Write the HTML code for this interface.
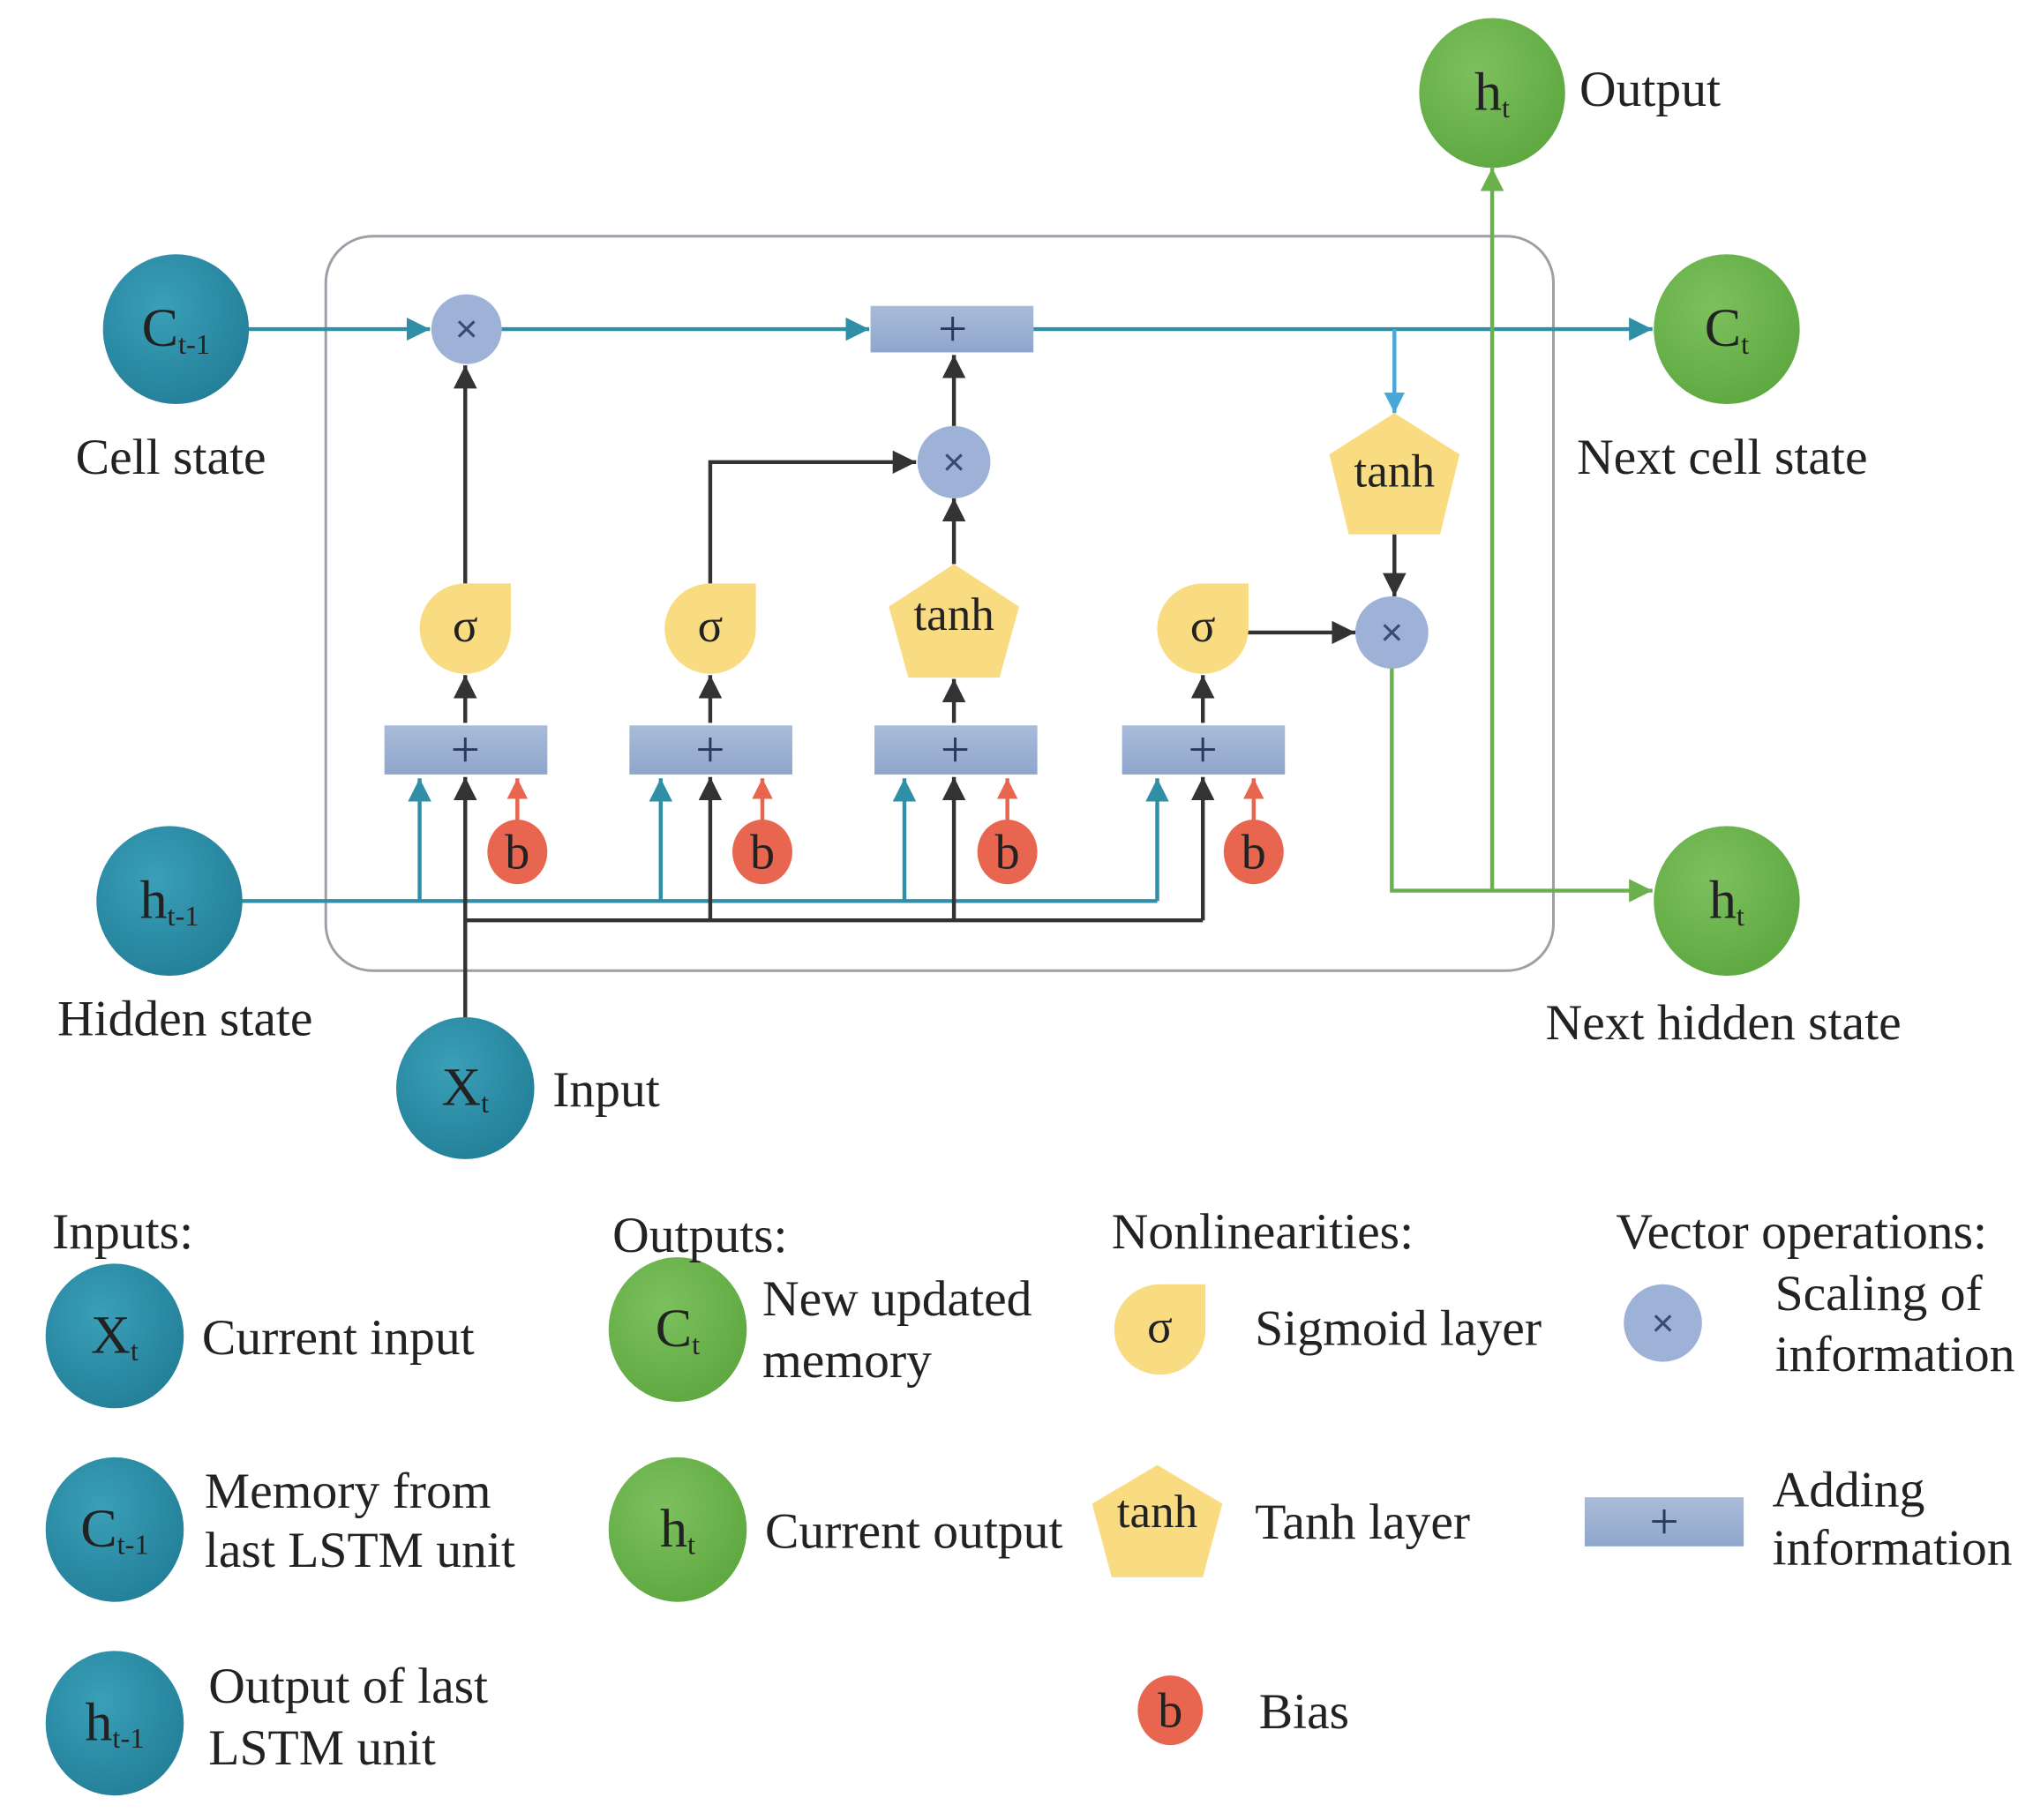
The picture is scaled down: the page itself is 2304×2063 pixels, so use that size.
<!DOCTYPE html>
<html><head><meta charset="utf-8"><style>
html,body{margin:0;padding:0;background:#fff;}
svg{display:block;}
text{font-family:"Liberation Serif",serif;fill:#222;}
</style></head><body>
<svg width="2304" height="2063" viewBox="0 0 1560 1410" preserveAspectRatio="none" xmlns="http://www.w3.org/2000/svg">
<defs>
<radialGradient id="gt" cx="0.4" cy="0.35" r="0.7"><stop offset="0" stop-color="#3a9fb8"/><stop offset="1" stop-color="#237f98"/></radialGradient>
<radialGradient id="gg" cx="0.4" cy="0.35" r="0.7"><stop offset="0" stop-color="#7cc05e"/><stop offset="1" stop-color="#5ea840"/></radialGradient>
<linearGradient id="gb" x1="0" y1="0" x2="0" y2="1"><stop offset="0" stop-color="#a9bbd8"/><stop offset="1" stop-color="#8fa6cc"/></linearGradient>
<marker id="aT" viewBox="0 0 10 10" refX="10" refY="5" markerWidth="18" markerHeight="18" markerUnits="userSpaceOnUse" orient="auto"><path d="M0,0L10,5L0,10z" fill="#2f8fa6"/></marker>
<marker id="aK" viewBox="0 0 10 10" refX="10" refY="5" markerWidth="18" markerHeight="18" markerUnits="userSpaceOnUse" orient="auto"><path d="M0,0L10,5L0,10z" fill="#333"/></marker>
<marker id="aR" viewBox="0 0 10 10" refX="10" refY="5" markerWidth="16" markerHeight="16" markerUnits="userSpaceOnUse" orient="auto"><path d="M0,0L10,5L0,10z" fill="#e8664f"/></marker>
<marker id="aG" viewBox="0 0 10 10" refX="10" refY="5" markerWidth="18" markerHeight="18" markerUnits="userSpaceOnUse" orient="auto"><path d="M0,0L10,5L0,10z" fill="#6ab04c"/></marker>
<marker id="aB" viewBox="0 0 10 10" refX="10" refY="5" markerWidth="16" markerHeight="16" markerUnits="userSpaceOnUse" orient="auto"><path d="M0,0L10,5L0,10z" fill="#4aa8d8"/></marker>
</defs>

<rect x="250" y="183" width="942" height="569" rx="36" fill="none" stroke="#9aa0a6" stroke-width="2"/>

<g stroke="#2f8fa6" stroke-width="3" fill="none">
<line x1="190" y1="255" x2="330" y2="255" marker-end="url(#aT)"/>
<line x1="385" y1="255" x2="667" y2="255" marker-end="url(#aT)"/>
<line x1="793" y1="255" x2="1268" y2="255" marker-end="url(#aT)"/>
<polyline points="185,698 888,698"/>
<line x1="322" y1="698" x2="322" y2="603" marker-end="url(#aT)"/>
<line x1="507" y1="698" x2="507" y2="603" marker-end="url(#aT)"/>
<line x1="694" y1="698" x2="694" y2="603" marker-end="url(#aT)"/>
<line x1="888" y1="698" x2="888" y2="603" marker-end="url(#aT)"/>
</g>
<line x1="1070" y1="255" x2="1070" y2="320" stroke="#4aa8d8" stroke-width="3" marker-end="url(#aB)"/>

<g stroke="#333" stroke-width="3" fill="none">
<line x1="357" y1="790" x2="357" y2="602" marker-end="url(#aK)"/>
<polyline points="357,713 923,713"/>
<line x1="545" y1="713" x2="545" y2="602" marker-end="url(#aK)"/>
<line x1="732" y1="713" x2="732" y2="602" marker-end="url(#aK)"/>
<line x1="923" y1="713" x2="923" y2="602" marker-end="url(#aK)"/>
<line x1="357" y1="560" x2="357" y2="523" marker-end="url(#aK)"/>
<line x1="545" y1="560" x2="545" y2="523" marker-end="url(#aK)"/>
<line x1="732" y1="560" x2="732" y2="526" marker-end="url(#aK)"/>
<line x1="923" y1="560" x2="923" y2="523" marker-end="url(#aK)"/>
<line x1="357" y1="452" x2="357" y2="283" marker-end="url(#aK)"/>
<polyline points="545,452 545,358 703,358" marker-end="url(#aK)"/>
<line x1="732" y1="437" x2="732" y2="386" marker-end="url(#aK)"/>
<line x1="732" y1="330" x2="732" y2="275" marker-end="url(#aK)"/>
<line x1="1070" y1="414" x2="1070" y2="462" marker-end="url(#aK)"/>
<line x1="957" y1="490" x2="1040" y2="490" marker-end="url(#aK)"/>
</g>
<g stroke="#e8664f" stroke-width="3">
<line x1="397" y1="640" x2="397" y2="603" marker-end="url(#aR)"/>
<line x1="585" y1="640" x2="585" y2="603" marker-end="url(#aR)"/>
<line x1="773" y1="640" x2="773" y2="603" marker-end="url(#aR)"/>
<line x1="962" y1="640" x2="962" y2="603" marker-end="url(#aR)"/>
</g>
<g stroke="#6ab04c" stroke-width="3" fill="none">
<polyline points="1068,516 1068,690 1268,690" marker-end="url(#aG)"/>
<line x1="1145" y1="690" x2="1145" y2="130" marker-end="url(#aG)"/>
</g>

<g fill="url(#gb)">
<rect x="668" y="237" width="125" height="36"/>
<rect x="295" y="562" width="125" height="38"/>
<rect x="483" y="562" width="125" height="38"/>
<rect x="671" y="562" width="125" height="38"/>
<rect x="861" y="562" width="125" height="38"/>
<rect x="1216" y="1160" width="122" height="38"/>
</g>
<g font-size="40" text-anchor="middle">
<text x="731" y="268" style="fill:#2a3a5a">+</text>
<text x="357" y="594" style="fill:#2a3a5a">+</text>
<text x="545" y="594" style="fill:#2a3a5a">+</text>
<text x="733" y="594" style="fill:#2a3a5a">+</text>
<text x="923" y="594" style="fill:#2a3a5a">+</text>
<text x="1277" y="1192" style="fill:#2a3a5a">+</text>
</g>

<g fill="#9db2d6">
<ellipse cx="358" cy="255" rx="27" ry="27"/>
<ellipse cx="732" cy="358" rx="28" ry="28"/>
<ellipse cx="1068" cy="490" rx="28" ry="28"/>
<ellipse cx="1276" cy="1025" rx="30" ry="30"/>
</g>
<g font-size="30" text-anchor="middle">
<text x="358" y="265" style="fill:#3a4a70;font-family:'Liberation Sans',sans-serif">×</text>
<text x="732" y="368" style="fill:#3a4a70;font-family:'Liberation Sans',sans-serif">×</text>
<text x="1068" y="500" style="fill:#3a4a70;font-family:'Liberation Sans',sans-serif">×</text>
<text x="1276" y="1035" style="fill:#3a4a70;font-family:'Liberation Sans',sans-serif">×</text>
</g>

<g fill="#f9dc82">
<path d="M322,487 A35,35 0 0 1 357,452 L392,452 L392,487 A35,35 0 0 1 357,522 A35,35 0 0 1 322,487Z"/>
<path d="M510,487 A35,35 0 0 1 545,452 L580,452 L580,487 A35,35 0 0 1 545,522 A35,35 0 0 1 510,487Z"/>
<path d="M888,487 A35,35 0 0 1 923,452 L958,452 L958,487 A35,35 0 0 1 923,522 A35,35 0 0 1 888,487Z"/>
<path d="M855,1030 A35,35 0 0 1 890,995 L925,995 L925,1030 A35,35 0 0 1 890,1065 A35,35 0 0 1 855,1030Z"/>
<polygon points="732,437 782,470 767,525 697,525 682,470"/>
<polygon points="1070,320 1120,352 1105,414 1035,414 1020,352"/>
<polygon points="888,1135 938,1165 923,1222 853,1222 838,1165"/>
</g>
<g font-size="36" text-anchor="middle">
<text x="357" y="497">σ</text>
<text x="545" y="497">σ</text>
<text x="923" y="497">σ</text>
<text x="890" y="1040">σ</text>
<text x="732" y="488">tanh</text>
<text x="1070" y="377">tanh</text>
<text x="888" y="1183">tanh</text>
</g>

<g fill="#e8664f">
<ellipse cx="397" cy="660" rx="23" ry="25"/>
<ellipse cx="585" cy="660" rx="23" ry="25"/>
<ellipse cx="773" cy="660" rx="23" ry="25"/>
<ellipse cx="962" cy="660" rx="23" ry="25"/>
<ellipse cx="898" cy="1325" rx="25" ry="27"/>
</g>
<g font-size="38" text-anchor="middle">
<text x="397" y="673">b</text>
<text x="585" y="673">b</text>
<text x="773" y="673">b</text>
<text x="962" y="673">b</text>
<text x="898" y="1338">b</text>
</g>

<g fill="url(#gt)">
<ellipse cx="135" cy="255" rx="56" ry="58"/>
<ellipse cx="130" cy="698" rx="56" ry="58"/>
<ellipse cx="357" cy="843" rx="53" ry="55"/>
<ellipse cx="88" cy="1035" rx="53" ry="56"/>
<ellipse cx="88" cy="1185" rx="53" ry="56"/>
<ellipse cx="88" cy="1335" rx="53" ry="56"/>
</g>
<g fill="url(#gg)">
<ellipse cx="1145" cy="72" rx="56" ry="58"/>
<ellipse cx="1325" cy="255" rx="56" ry="58"/>
<ellipse cx="1325" cy="698" rx="56" ry="58"/>
<ellipse cx="520" cy="1030" rx="53" ry="56"/>
<ellipse cx="520" cy="1185" rx="53" ry="56"/>
</g>
<g font-size="42" text-anchor="middle">
<text x="135" y="268">C<tspan font-size="22" dy="6">t-1</tspan></text>
<text x="130" y="711">h<tspan font-size="22" dy="6">t-1</tspan></text>
<text x="357" y="856">X<tspan font-size="22" dy="6">t</tspan></text>
<text x="1145" y="85">h<tspan font-size="22" dy="6">t</tspan></text>
<text x="1325" y="268">C<tspan font-size="22" dy="6">t</tspan></text>
<text x="1325" y="711">h<tspan font-size="22" dy="6">t</tspan></text>
<text x="88" y="1048">X<tspan font-size="22" dy="6">t</tspan></text>
<text x="88" y="1198">C<tspan font-size="22" dy="6">t-1</tspan></text>
<text x="88" y="1348">h<tspan font-size="22" dy="6">t-1</tspan></text>
<text x="520" y="1043">C<tspan font-size="22" dy="6">t</tspan></text>
<text x="520" y="1198">h<tspan font-size="22" dy="6">t</tspan></text>
</g>

<g font-size="39">
<text x="58" y="367">Cell state</text>
<text x="44" y="802">Hidden state</text>
<text x="424" y="857">Input</text>
<text x="1212" y="82">Output</text>
<text x="1210" y="367">Next cell state</text>
<text x="1186" y="805">Next hidden state</text>
<text x="40" y="967">Inputs:</text>
<text x="155" y="1049">Current input</text>
<text x="157" y="1168">Memory from</text>
<text x="157" y="1214">last LSTM unit</text>
<text x="160" y="1319">Output of last</text>
<text x="160" y="1367">LSTM unit</text>
<text x="470" y="970">Outputs:</text>
<text x="585" y="1019">New updated</text>
<text x="585" y="1067">memory</text>
<text x="587" y="1199">Current output</text>
<text x="853" y="967">Nonlinearities:</text>
<text x="963" y="1042">Sigmoid layer</text>
<text x="963" y="1192">Tanh layer</text>
<text x="966" y="1339">Bias</text>
<text x="1240" y="967">Vector operations:</text>
<text x="1362" y="1015">Scaling of</text>
<text x="1362" y="1062">information</text>
<text x="1360" y="1167">Adding</text>
<text x="1360" y="1212">information</text>
</g>
</svg>
</body></html>
